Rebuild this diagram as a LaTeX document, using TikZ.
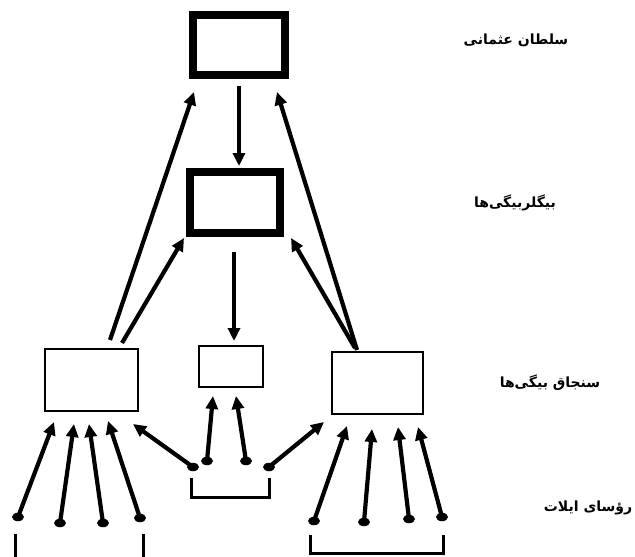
\documentclass[tikz,border=0pt]{standalone}
\usepackage{fontspec}
\newfontfamily\arabicfont[Script=Arabic]{DejaVu Sans}
\TeXXeTstate=1
\usetikzlibrary{arrows.meta,shapes.geometric}
\begin{document}
\begin{tikzpicture}[x=1pt,y=-1pt,
  thickbox/.style={draw,line width=8pt,inner sep=0pt},
  thinbox/.style={draw,line width=2.2pt,inner sep=0pt},
  arr/.style={line width=4.2pt,-{Triangle[length=13pt,width=12pt]}},
  dot/.style={ellipse,fill,inner sep=0pt,minimum width=12pt,minimum height=8.5pt},
  lbl/.style={font=\arabicfont\bfseries\fontsize{14}{16}\selectfont,inner sep=0pt},
  brk/.style={line width=3pt}]
\useasboundingbox (0,0) rectangle (635,557);
% boxes
\draw[thickbox] (193,15) rectangle (285,75);
\draw[thickbox] (190,172) rectangle (280,233);
\node[thinbox,minimum width=93pt,minimum height=62pt] (L) at (91.5,380) {};
\node[thinbox,minimum width=64pt,minimum height=41pt] (M) at (231,366.5) {};
\node[thinbox,minimum width=91pt,minimum height=62pt] (R) at (377.5,383) {};
\coordinate (T1) at (239,86);
\coordinate (T1b) at (239,166);
\coordinate (T2) at (234,252);
\coordinate (T2b) at (234,341);
\draw[arr] (T1) -- (T1b);
\draw[arr] (T2) -- (T2b);
% to top
\coordinate (La) at (110,340);
\coordinate (Lb) at (122,343);
\coordinate (Ra) at (357,350);
\coordinate (Rb) at (355,348);
\coordinate (Ttl) at (194,92);
\coordinate (Ttr) at (277,92);
\coordinate (Btl) at (184,238);
\coordinate (Btr) at (291,238);
\draw[arr] (La) -- (Ttl);
\draw[arr] (Lb) -- (Btl);
\draw[arr] (Ra) -- (Ttr);
\draw[arr] (Rb) -- (Btr);
% left group
\node[dot] (l1) at (18,517) {};
\node[dot] (l2) at (60,523) {};
\node[dot] (l3) at (103,523) {};
\node[dot] (l4) at (140,518) {};
\coordinate (lt1) at (54,422);
\coordinate (lt2) at (74,424);
\coordinate (lt3) at (89,424);
\coordinate (lt4) at (108,421);
\draw[arr] (l1.center) -- (lt1);
\draw[arr] (l2.center) -- (lt2);
\draw[arr] (l3.center) -- (lt3);
\draw[arr] (l4.center) -- (lt4);
% middle group
\node[dot] (m1) at (193,467) {};
\node[dot] (m2) at (207,461) {};
\node[dot] (m3) at (246,461) {};
\node[dot] (m4) at (269,467) {};
\coordinate (mt1) at (133,424);
\coordinate (mt2) at (213,396);
\coordinate (mt3) at (236,396);
\coordinate (mt4) at (324,422);
\draw[arr] (m1.center) -- (mt1);
\draw[arr] (m2.center) -- (mt2);
\draw[arr] (m3.center) -- (mt3);
\draw[arr] (m4.center) -- (mt4);
% right group
\node[dot] (r1) at (314,521) {};
\node[dot] (r2) at (364,522) {};
\node[dot] (r3) at (409,519) {};
\node[dot] (r4) at (442,517) {};
\coordinate (rt1) at (347,426);
\coordinate (rt2) at (372,429);
\coordinate (rt3) at (398,427);
\coordinate (rt4) at (418,427);
\draw[arr] (r1.center) -- (rt1);
\draw[arr] (r2.center) -- (rt2);
\draw[arr] (r3.center) -- (rt3);
\draw[arr] (r4.center) -- (rt4);
% brackets
\coordinate (mb1) at (191,478);
\coordinate (mb2) at (269,478);
\draw[brk] (mb1) -- (191,497) -- (269,497) -- (mb2);
\coordinate (lb1) at (15,534);
\coordinate (lb2) at (143,534);
\draw[brk] (lb1) -- (15,557);
\draw[brk] (lb2) -- (143,557);
\coordinate (rb1) at (310,535);
\coordinate (rb2) at (443,535);
\draw[brk] (rb1) -- (310,553) -- (443,553) -- (rb2);
% labels
\node[lbl] (t1) at (516,40) {\beginR سلطان عثمانی\endR};
\node[lbl] (t2) at (515,203) {\beginR بیگلربیگی‌ها\endR};
\node[lbl] (t3) at (550,383) {\beginR سنجاق بیگی‌ها\endR};
\node[lbl] (t4) at (588,508) {\beginR رؤسای ایلات\endR};
\end{tikzpicture}
\end{document}
